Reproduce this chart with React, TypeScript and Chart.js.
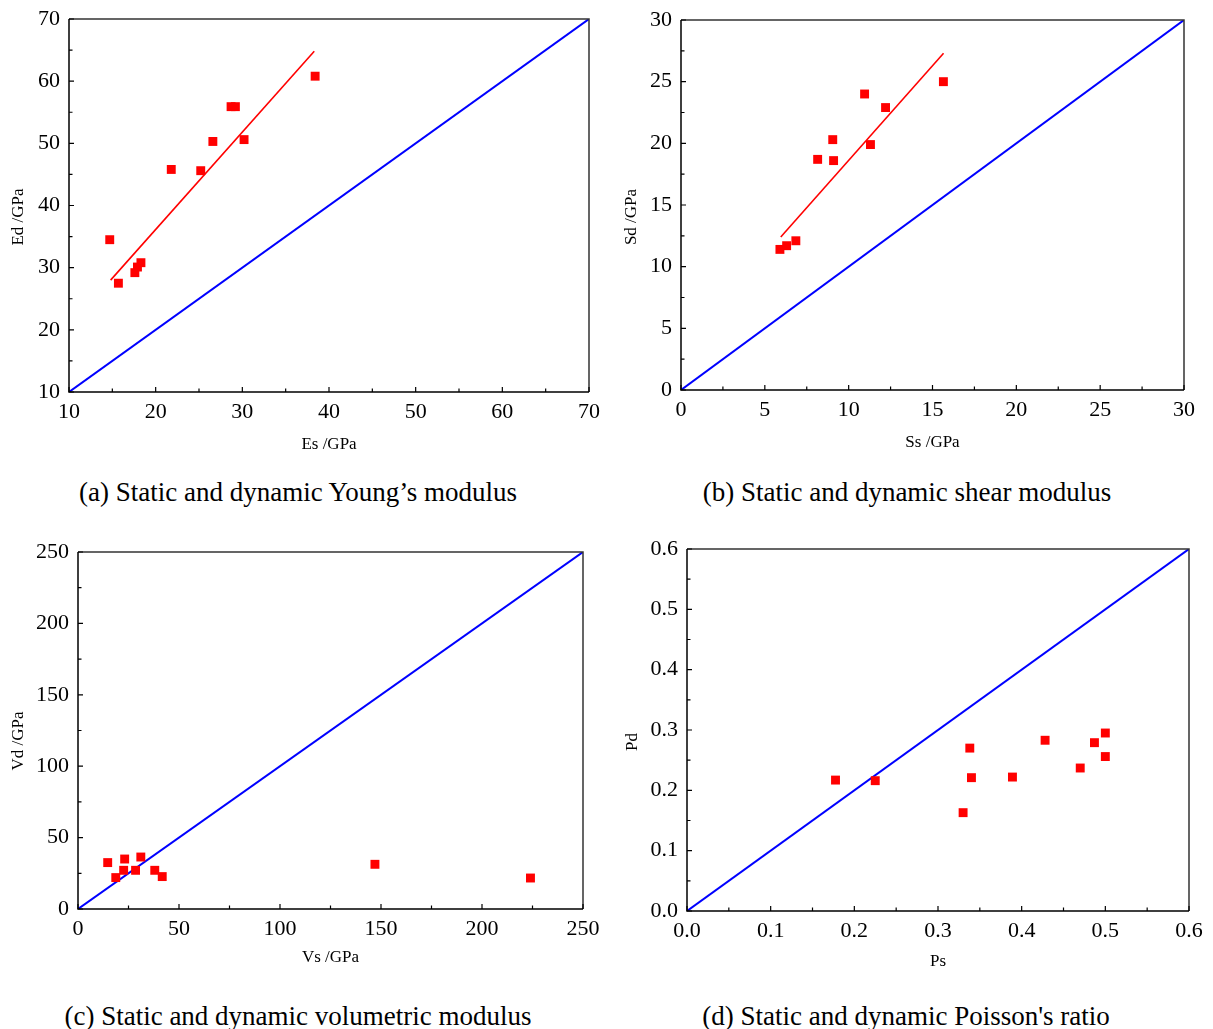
import { useEffect, useRef } from "react";
import { Chart, registerables } from "chart.js";

Chart.register(...registerables);

// (a) Static and dynamic Young's modulus
const youngStatic = [14.7, 15.7, 17.6, 17.9, 18.3, 21.8, 25.2, 26.6, 28.7, 29.2, 30.2, 38.4];
const youngDynamic = [34.5, 27.5, 29.2, 30.1, 30.8, 45.8, 45.6, 50.3, 55.9, 55.9, 50.6, 60.8];
const youngFitStatic = [14.8, 38.3];
const youngFitDynamic = [28.0, 64.8];
const youngTicks = [10, 20, 30, 40, 50, 60, 70];

// (b) Static and dynamic shear modulus
const shearStatic = [5.9, 6.3, 6.85, 8.15, 9.05, 9.1, 10.95, 11.3, 12.2, 15.65];
const shearDynamic = [11.4, 11.7, 12.1, 18.7, 20.3, 18.6, 24.0, 19.9, 22.9, 25.0];
const shearFitStatic = [5.95, 15.66];
const shearFitDynamic = [12.4, 27.3];
const shearTicks = [0, 5, 10, 15, 20, 25, 30];

// (c) Static and dynamic volumetric modulus
const volStatic = [14.7, 18.7, 22.6, 23.1, 28.5, 31.1, 38.0, 41.7, 147, 224];
const volDynamic = [32.5, 22.0, 27.1, 35.0, 27.1, 36.4, 27.1, 22.7, 31.3, 21.7];
const volTicks = [0, 50, 100, 150, 200, 250];

// (d) Static and dynamic Poisson's ratio
const poissonStatic = [0.1775, 0.225, 0.33, 0.338, 0.34, 0.389, 0.428, 0.47, 0.487, 0.5, 0.5];
const poissonDynamic = [0.217, 0.216, 0.163, 0.27, 0.221, 0.222, 0.283, 0.237, 0.279, 0.295, 0.256];
const poissonTicks = [0, 0.1, 0.2, 0.3, 0.4, 0.5, 0.6];

const FONT = "'Liberation Serif', 'Times New Roman', Times, serif";

type Panel = {
  key: string;
  left: number;
  top: number;
  width: number;
  height: number;
  area: { l: number; t: number; r: number; b: number };
  xs: number[];
  ys: number[];
  fitX?: number[];
  fitY?: number[];
  ticks: number[];
  decimals: number;
  xTitle: string;
  yTitle: string;
  xTitleY: number;
  yTitleX: number;
  yTitleY: number;
  caption: string;
  captionX: number;
  captionY: number;
};

const panels: Panel[] = [
  {
    key: "a", left: 0, top: 0, width: 606, height: 470,
    area: { l: 69, t: 19, r: 589, b: 392 },
    xs: youngStatic, ys: youngDynamic, fitX: youngFitStatic, fitY: youngFitDynamic,
    ticks: youngTicks, decimals: 0,
    xTitle: "Es /GPa", yTitle: "Ed /GPa", xTitleY: 445, yTitleX: 19, yTitleY: 217,
    caption: "(a) Static and dynamic Young\u2019s modulus", captionX: 298, captionY: 492,
  },
  {
    key: "b", left: 606, top: 0, width: 607, height: 470,
    area: { l: 75, t: 20, r: 578, b: 390 },
    xs: shearStatic, ys: shearDynamic, fitX: shearFitStatic, fitY: shearFitDynamic,
    ticks: shearTicks, decimals: 0,
    xTitle: "Ss /GPa", yTitle: "Sd /GPa", xTitleY: 443, yTitleX: 26, yTitleY: 217,
    caption: "(b) Static and dynamic shear modulus", captionX: 907, captionY: 492,
  },
  {
    key: "c", left: 0, top: 530, width: 606, height: 470,
    area: { l: 78, t: 22, r: 583, b: 379 },
    xs: volStatic, ys: volDynamic,
    ticks: volTicks, decimals: 0,
    xTitle: "Vs /GPa", yTitle: "Vd /GPa", xTitleY: 428, yTitleX: 19, yTitleY: 211,
    caption: "(c) Static and dynamic volumetric modulus", captionX: 298, captionY: 1016,
  },
  {
    key: "d", left: 606, top: 530, width: 607, height: 470,
    area: { l: 81, t: 19, r: 583, b: 381 },
    xs: poissonStatic, ys: poissonDynamic,
    ticks: poissonTicks, decimals: 1,
    xTitle: "Ps", yTitle: "Pd", xTitleY: 432, yTitleX: 27, yTitleY: 212,
    caption: "(d) Static and dynamic Poisson's ratio", captionX: 906, captionY: 1016,
  },
];

const frameTicksPlugin = {
  id: "frameTicks",
  afterDatasetsDraw(chart: any, _args: any, opts: any) {
    const { ctx, chartArea: a } = chart;
    const xs = chart.scales.x;
    const ys = chart.scales.y;
    const ticks: number[] = opts.ticks;
    ctx.save();
    // top / right frame
    ctx.strokeStyle = "#333";
    ctx.lineWidth = 1.5;
    ctx.beginPath();
    ctx.moveTo(a.left, a.top);
    ctx.lineTo(a.right, a.top);
    ctx.lineTo(a.right, a.bottom);
    ctx.stroke();
    // left / bottom axes
    ctx.strokeStyle = "#000";
    ctx.beginPath();
    ctx.moveTo(a.left, a.top);
    ctx.lineTo(a.left, a.bottom);
    ctx.lineTo(a.right, a.bottom);
    ctx.stroke();
    // ticks (inward), major and minor
    ctx.lineWidth = 1.2;
    ctx.beginPath();
    for (let i = 0; i < ticks.length; i++) {
      const vals: [number, number][] = [[ticks[i], 5]];
      if (i < ticks.length - 1) vals.push([(ticks[i] + ticks[i + 1]) / 2, 3.5]);
      for (const [v, len] of vals) {
        const px = xs.getPixelForValue(v);
        ctx.moveTo(px, a.bottom);
        ctx.lineTo(px, a.bottom - len);
        const py = ys.getPixelForValue(v);
        ctx.moveTo(a.left, py);
        ctx.lineTo(a.left + len, py);
      }
    }
    ctx.stroke();
    // axis titles
    ctx.fillStyle = "#000";
    ctx.font = `17px ${FONT}`;
    ctx.textAlign = "center";
    ctx.textBaseline = "middle";
    ctx.fillText(opts.xTitle, (a.left + a.right) / 2, opts.xTitleY);
    ctx.translate(opts.yTitleX, opts.yTitleY);
    ctx.rotate(-Math.PI / 2);
    ctx.fillText(opts.yTitle, 0, 0);
    ctx.restore();
  },
};

function PanelChart({ p }: { p: Panel }) {
  const ref = useRef<HTMLCanvasElement | null>(null);
  useEffect(() => {
    if (!ref.current) return;
    const lo = p.ticks[0];
    const hi = p.ticks[p.ticks.length - 1];
    const fmt = (v: any) => Number(v).toFixed(p.decimals);
    const datasets: any[] = [
      {
        data: p.xs.map((x, i) => ({ x, y: p.ys[i] })),
        pointStyle: "rect",
        pointRadius: 6.3,
        pointHoverRadius: 6.3,
        backgroundColor: "#ff0000",
        borderColor: "#ff0000",
        borderWidth: 0,
        showLine: false,
      },
    ];
    if (p.fitX && p.fitY) {
      datasets.push({
        data: p.fitX.map((x, i) => ({ x, y: p.fitY![i] })),
        showLine: true,
        borderColor: "#ff0000",
        borderWidth: 1.6,
        pointRadius: 0,
      });
    }
    datasets.push({
      data: [
        { x: lo, y: lo },
        { x: hi, y: hi },
      ],
      showLine: true,
      borderColor: "#0000ff",
      borderWidth: 2,
      pointRadius: 0,
    });
    const H = p.height;
    const W = p.width;
    const chart = new Chart(ref.current, {
      type: "scatter",
      data: { datasets },
      plugins: [frameTicksPlugin as any],
      options: {
        animation: false,
        responsive: false,
        devicePixelRatio: 1,
        events: [],
        layout: {
          autoPadding: false,
          padding: { left: 0, top: p.area.t, right: W - p.area.r, bottom: 0 },
        },
        plugins: {
          legend: { display: false },
          tooltip: { enabled: false },
          frameTicks: {
            ticks: p.ticks,
            xTitle: p.xTitle,
            yTitle: p.yTitle,
            xTitleY: p.xTitleY,
            yTitleX: p.yTitleX,
            yTitleY: p.yTitleY,
          },
        } as any,
        scales: {
          x: {
            type: "linear",
            min: lo,
            max: hi,
            grid: { display: false },
            border: { display: false },
            afterBuildTicks: (s: any) => {
              s.ticks = p.ticks.map((v) => ({ value: v }));
            },
            afterFit: (s: any) => {
              s.height = H - p.area.b;
            },
            ticks: {
              autoSkip: false,
              maxRotation: 0,
              color: "#000",
              padding: -1,
              font: { family: FONT, size: 22 },
              callback: (v: any) => fmt(v),
            },
          },
          y: {
            type: "linear",
            min: lo,
            max: hi,
            grid: { display: false },
            border: { display: false },
            afterBuildTicks: (s: any) => {
              s.ticks = p.ticks.map((v) => ({ value: v }));
            },
            afterFit: (s: any) => {
              s.width = p.area.l;
            },
            ticks: {
              autoSkip: false,
              color: "#000",
              padding: 1,
              font: { family: FONT, size: 22 },
              callback: (v: any) => fmt(v),
            },
          },
        },
      },
    });
    return () => chart.destroy();
  }, [p]);
  return (
    <canvas
      ref={ref}
      width={p.width}
      height={p.height}
      style={{ position: "absolute", left: p.left, top: p.top, width: p.width, height: p.height }}
    />
  );
}

export default function App() {
  return (
    <div
      style={{
        position: "absolute",
        left: 0,
        top: 0,
        width: 1213,
        height: 1029,
        background: "#fff",
        overflow: "hidden",
      }}
    >
      {panels.map((p) => (
        <PanelChart key={p.key} p={p} />
      ))}
      {panels.map((p) => (
        <div
          key={"cap" + p.key}
          style={{
            position: "absolute",
            left: p.captionX - 300,
            top: p.captionY - 16,
            width: 600,
            height: 32,
            lineHeight: "32px",
            textAlign: "center",
            fontFamily: FONT,
            fontSize: 27,
            color: "#000",
            whiteSpace: "nowrap",
          }}
        >
          {p.caption}
        </div>
      ))}
    </div>
  );
}
